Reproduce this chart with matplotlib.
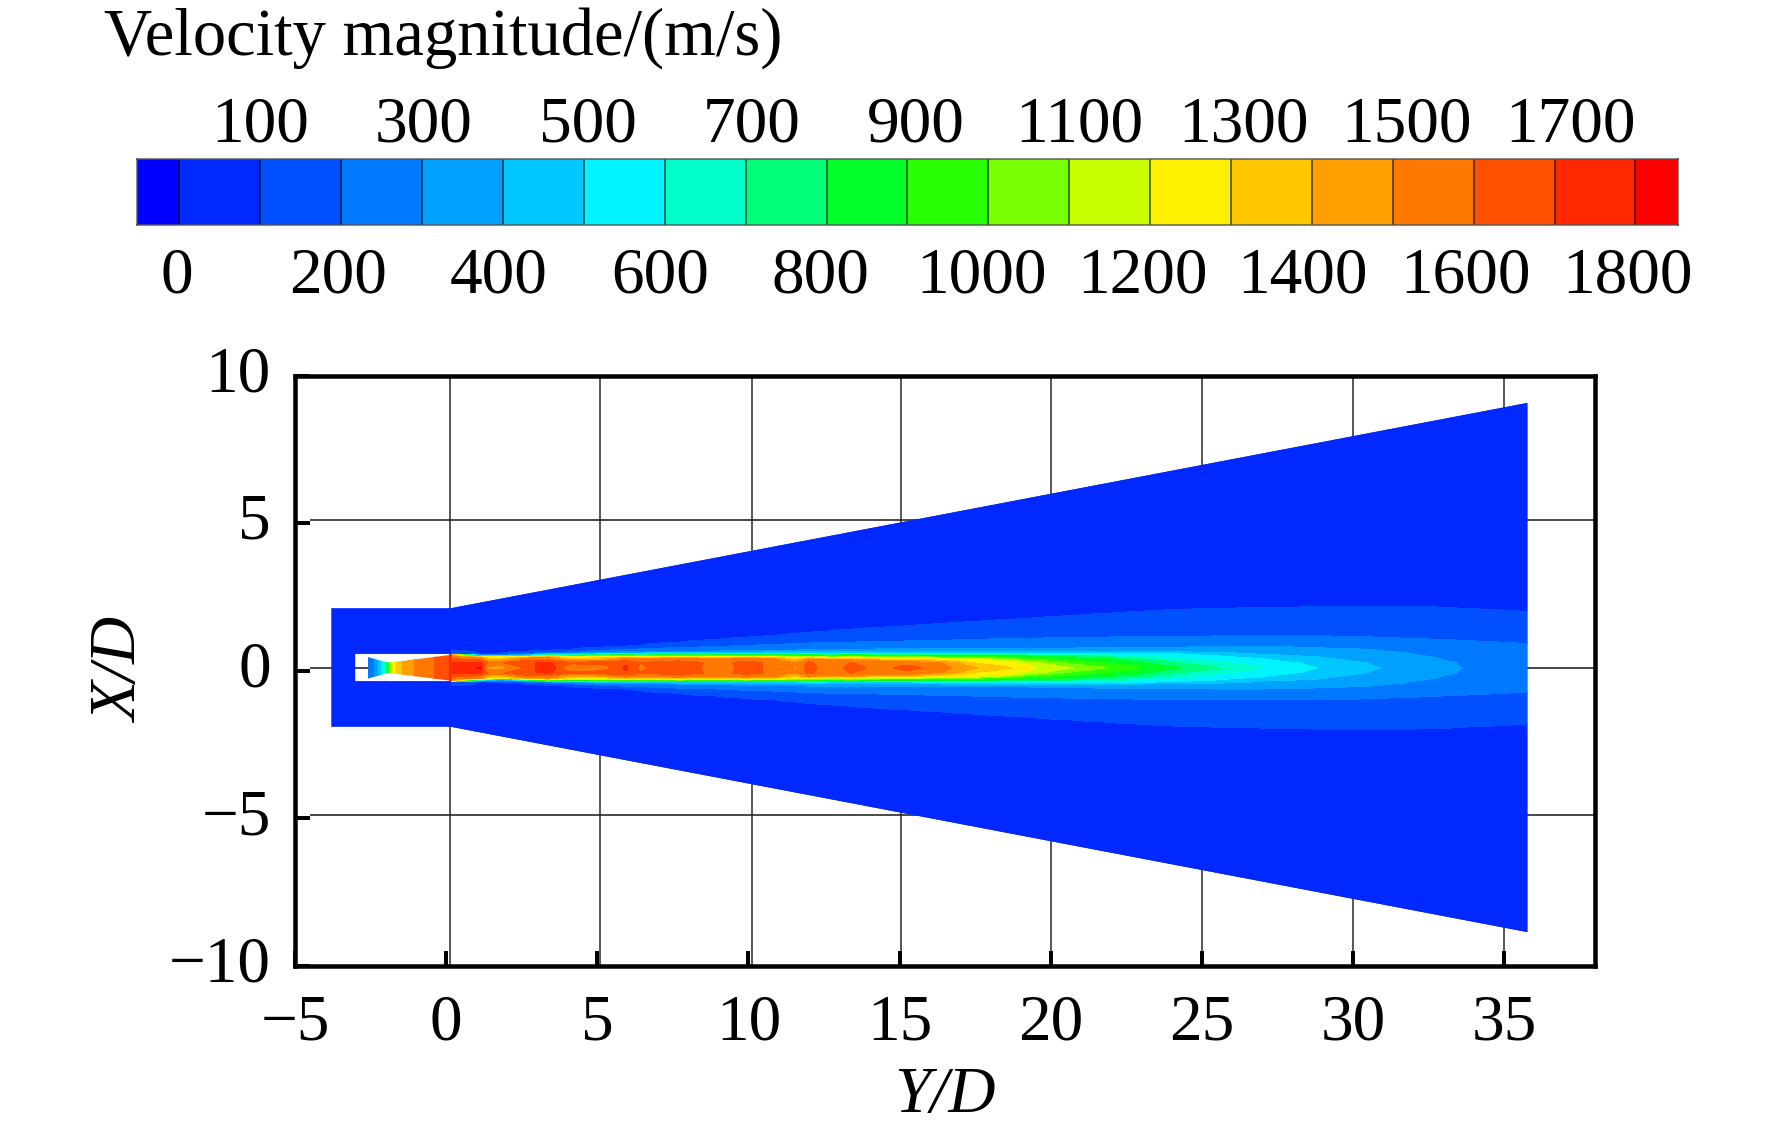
import numpy as np
import matplotlib
matplotlib.use("Agg")
import matplotlib.pyplot as plt
from matplotlib.colors import ListedColormap, BoundaryNorm
from matplotlib.path import Path
from matplotlib.patches import PathPatch, Polygon
from matplotlib.transforms import ScaledTranslation

plt.rcParams['font.family'] = ['Liberation Serif', 'DejaVu Serif']
plt.rcParams['axes.unicode_minus'] = True

# ---------- colour scale ----------
title = "Velocity magnitude/(m/s)"
band_edges = [-53] + list(range(0, 1900, 100)) + [1852]
band_colors = ["#0000FF", "#0028FF", "#0050FF", "#0078FF", "#00A0FF", "#00C8FF", "#00F4FF",
               "#00FFC8", "#00FF78", "#00FF28", "#28FF00", "#78FF00", "#C8FF00", "#FFF000",
               "#FFC800", "#FFA000", "#FF7800", "#FF5000", "#FF2800", "#FF0000"]
bar_labels_lower = ["0", "200", "400", "600", "800", "1000", "1200", "1400", "1600", "1800"]
bar_pos_lower = [-3, 196, 395, 594, 792, 991, 1190, 1389, 1590, 1790]
bar_labels_upper = ["100", "300", "500", "700", "900", "1100", "1300", "1500", "1700"]
bar_pos_upper = [100, 302, 505, 708, 910, 1112, 1315, 1517, 1720]

# ---------- jet field ----------
centre_x = 0.10
stations = [0.17, 1.13, 1.36, 1.79, 2.62, 3.38, 4.11, 5.10, 5.93, 6.42, 7.68, 9.07, 9.90, 10.90, 11.56,
            11.99, 12.72, 13.38, 14.37, 15.26, 16.46, 17.58, 18.68, 19.24, 20.76, 21.82, 22.98,
            24.30, 25.53, 26.95, 28.28, 28.81, 29.37, 30.50, 30.89, 31.66, 32.75, 33.42, 33.61, 35.76]
u_centre = [1720, 1810, 1450, 1420, 1620, 1800, 1480, 1500, 1720, 1580, 1680, 1530, 1650, 1560, 1490,
            1650, 1520, 1640, 1560, 1640, 1530, 1400, 1300, 1220, 1100, 1000, 900,
            800, 700, 600, 525, 500, 465, 415, 400, 370, 325, 305, 300, 265]
u_shoulder = [1710, 1720, 1600, 1580, 1700, 1700, 1620, 1650, 1680, 1600, 1660, 1560, 1640, 1570, 1500,
              1620, 1520, 1600, 1540, 1560, 1510, 0, 0, 0, 0, 0, 0,
              0, 0, 0, 0, 0, 0, 0, 0, 0, 0, 0, 0, 0]
r100 = [.46, .47, .47, .49, .54, .58, .61, .68, .71, .75, .85, .95, 1.02, 1.08, 1.15, 1.19, 1.24, 1.29,
        1.36, 1.41, 1.49, 1.56, 1.63, 1.66, 1.76, 1.83, 1.90, 1.97,
        2.00, 2.03, 2.05, 2.07, 2.07, 2.07, 2.07, 2.07, 2.05, 2.02, 2.00, 1.90]
r200 = [.46, .44, .44, .45, .47, .51, .53, .58, .61, .63, .68, .71, .75, .78, .81, .83, .85, .86,
        .88, .90, .92, .95, .98, .98, 1.02, 1.03, 1.05, 1.05,
        1.07, 1.08, 1.08, 1.08, 1.06, 1.04, 1.02, .99, .95, .93, .92, .81]
r300 = [.45, .42, .42, .41, .44, .47, .48, .51, .53, .53, .54, .56, .58, .59, .59, .61, .61, .61,
        .63, .63, .64, .64, .64, .64, .66, .68, .68, .69,
        .71, .71, .69, .67, .65, .62, .58, .51, .34, .17, 0, 0]
r400 = [.45, .41, .41, .40, .42, .46, .46, .48, .49, .49, .51, .51, .52, .53, .53, .53, .53, .53,
        .53, .53, .54, .54, .54, .54, .54, .54, .54, .53,
        .51, .44, .39, .37, .30, .15, 0, 0, 0, 0, 0, 0]
r500 = [.45, .41, .40, .39, .41, .44, .44, .46, .47, .46, .47, .47, .47, .47, .47, .48, .47, .47,
        .47, .47, .48, .49, .49, .49, .49, .49, .48, .46,
        .40, .31, .15, 0, 0, 0, 0, 0, 0, 0, 0, 0]
r800 = [.44, .39, .38, .37, .40, .42, .41, .42, .43, .42, .44, .43, .44, .43, .43, .43, .42, .43,
        .42, .42, .41, .41, .40, .39, .36, .31, .20, 0,
        0, 0, 0, 0, 0, 0, 0, 0, 0, 0, 0, 0]
r1200 = [.44, .37, .37, .36, .37, .39, .36, .37, .37, .36, .37, .36, .37, .36, .34, .35, .33, .34,
         .32, .32, .29, .27, .20, .12, 0, 0, 0, 0,
         0, 0, 0, 0, 0, 0, 0, 0, 0, 0, 0, 0]
r1500 = [.43, .34, .33, .31, .32, .34, .29, .31, .31, .29, .31, .29, .31, .29, .27, .28, .26, .26,
         .22, .22, .15, 0, 0, 0, 0, 0, 0, 0,
         0, 0, 0, 0, 0, 0, 0, 0, 0, 0, 0, 0]
contour_levels = [1500, 1200, 800, 500, 400, 300, 200, 100]
contour_radii = [r1500, r1200, r800, r500, r400, r300, r200, r100]
u_ambient = 40
shoulder_r = 0.17

# nozzle interior
nozzle_y = [-2.58, -2.45, -2.35, -2.19, -2.02, -1.92, -1.79, -1.59, -1.36, -1.03, -0.53, -0.03, 0.17]
nozzle_u = [200, 250, 320, 450, 650, 900, 1200, 1350, 1430, 1510, 1580, 1660, 1720]
nozzle_outline_y = [-2.58, -1.92, 0.17]
nozzle_outline_r = [0.36, 0.17, 0.44]

# domain outline
block_left, nozzle_left, wedge_start, wedge_end = -3.80, -3.01, 0.17, 35.76
block_top, block_bottom, end_top, end_bottom = 2.12, -1.90, 9.07, -8.85
nozzle_top, nozzle_bottom = 0.57, -0.35

# axes
x_ticks = [-5, 0, 5, 10, 15, 20, 25, 30, 35]
y_ticks = [-10, -5, 0, 5, 10]
grid_x = [0.13, 5.10, 10.10, 15.03, 20.0, 25.0, 30.0, 35.0]
grid_y = [5.10, 0.08, -4.90]

W, H = 1772, 1136
DPI = 100
FS = 47
fig = plt.figure(figsize=(W / DPI, H / DPI), dpi=DPI, facecolor='white')


def axbox(l, t, r, b):
    return [l / W, 1 - b / H, (r - l) / W, (b - t) / H]


px = 72 / DPI  # one pixel in points

# ---------- colour bar ----------
cmap = ListedColormap(band_colors)
norm = BoundaryNorm(band_edges, cmap.N)
cax = fig.add_axes(axbox(136.6, 159, 1677.5, 224.7))
cax.pcolormesh(band_edges, [0, 1], np.array([[(a + b) / 2 for a, b in zip(band_edges[:-1], band_edges[1:])]]),
               cmap=cmap, norm=norm)
cax.vlines(band_edges[1:-1], 0, 1, color='black', alpha=0.55, lw=2 * px)
cax.set_xlim(band_edges[0], band_edges[-1])
cax.set_ylim(0, 1)
cax.set_yticks([])
for s in cax.spines.values():
    s.set_color('#555555')
    s.set_alpha(0.7)
    s.set_linewidth(2 * px)
cax.set_xticks(bar_pos_lower, bar_labels_lower, fontsize=FS)
cax.tick_params(axis='x', length=0, pad=16)
top_ax = cax.secondary_xaxis('top')
top_ax.set_xticks(bar_pos_upper, bar_labels_upper, fontsize=FS)
top_ax.tick_params(axis='x', length=0, pad=2.5)
top_ax.spines['top'].set_visible(False)
fig.text(104 / W, 1 - 55 / H, title, fontsize=48, ha='left', va='baseline')

# ---------- main axes ----------
ax = fig.add_axes(axbox(295, 375.5, 1595, 966))
ax.set_xlim(-5, 38)
ax.set_ylim(-10, 10)
ax.vlines(grid_x, -10, 10, color='#333333', lw=1.6 * px, zorder=1)
ax.hlines(grid_y, -5 + 0.5, 38, color='#222222', lw=1.6 * px, zorder=1)

outer = [(block_left, block_top), (wedge_start, block_top), (wedge_end, end_top), (wedge_end, end_bottom),
         (wedge_start, block_bottom), (block_left, block_bottom), (block_left, block_top)]
hole = [(nozzle_left, nozzle_top), (nozzle_left, nozzle_bottom), (wedge_start, nozzle_bottom),
        (wedge_start, nozzle_top), (nozzle_left, nozzle_top)]
codes = [Path.MOVETO] + [Path.LINETO] * 5 + [Path.CLOSEPOLY] + [Path.MOVETO] + [Path.LINETO] * 3 + [Path.CLOSEPOLY]
ax.add_patch(PathPatch(Path(outer + hole, codes), facecolor=band_colors[1], edgecolor='none', zorder=2))

# jet field: each station's profile is the table above, placed on a common radial grid
r_grid = np.concatenate([np.linspace(0, 2.4, 241), [3, 12]])
field = np.zeros((len(r_grid), len(stations)))
for j in range(len(stations)):
    rr = [0.0]
    uu = [u_centre[j]]
    if u_shoulder[j] and r1500[j] > shoulder_r:
        rr.append(shoulder_r)
        uu.append(u_shoulder[j])
    for lev, radii in zip(contour_levels, contour_radii):
        if lev < u_centre[j] and radii[j] > rr[-1]:
            rr.append(radii[j])
            uu.append(lev)
    rr += [r100[j] * 1.5, 13]
    uu += [u_ambient, u_ambient]
    field[:, j] = np.interp(r_grid, rr, uu)
y_full = np.concatenate([centre_x - r_grid[::-1], centre_x + r_grid[1:]])
f_full = np.vstack([field[::-1], field[1:]])
fill_levels = list(range(0, 1900, 100)) + [2200]
wedge_clip = Polygon([(wedge_start, block_top), (wedge_end, end_top), (wedge_end, end_bottom),
                      (wedge_start, block_bottom)], transform=ax.transData)
cs = ax.contourf(stations, y_full, f_full, levels=fill_levels, colors=band_colors[1:], zorder=3)
cs.set_clip_path(wedge_clip)
cs.set_edgecolor('face')
cs.set_linewidth(0.4)

# nozzle jet
ny = np.array([centre_x - 0.6, centre_x + 0.6])
nf = np.vstack([nozzle_u, nozzle_u])
up = [(a, centre_x + b) for a, b in zip(nozzle_outline_y, nozzle_outline_r)]
lo = [(a, centre_x - b) for a, b in zip(nozzle_outline_y, nozzle_outline_r)]
noz_clip = Polygon(up + lo[::-1], transform=ax.transData)
cs2 = ax.contourf(nozzle_y, ny, nf, levels=fill_levels, colors=band_colors[1:], zorder=3)
cs2.set_clip_path(noz_clip)
cs2.set_edgecolor('face')
cs2.set_linewidth(0.4)

ax.set_xticks(x_ticks)
ax.set_yticks(y_ticks)
ax.tick_params(axis='both', direction='in', length=15 * px, width=4 * px, labelsize=FS, top=False, right=False)
ax.tick_params(axis='x', pad=20.5)
ax.tick_params(axis='y', pad=17.5)
lift = ScaledTranslation(0, 7 / DPI, fig.dpi_scale_trans)
for lab in ax.get_yticklabels():
    lab.set_transform(lab.get_transform() + lift)
for s in ax.spines.values():
    s.set_linewidth(4.5 * px)
    s.set_zorder(6)
ax.set_xlabel('Y/D', style='italic', fontsize=FS, va='center')
ax.xaxis.set_label_coords(0.50, -(1096 - 966) / 590.5)
ax.set_ylabel('X/D', style='italic', fontsize=FS, va='center')
ax.yaxis.set_label_coords((121 - 295) / 1300, 0.5)

fig.savefig('out.png', dpi=DPI)
